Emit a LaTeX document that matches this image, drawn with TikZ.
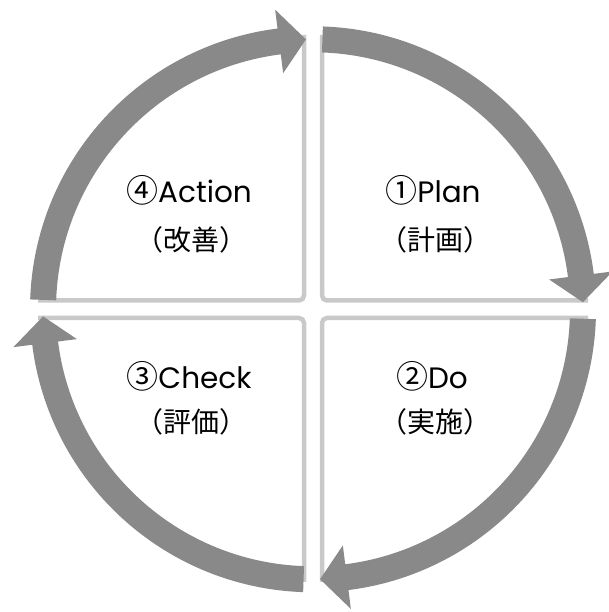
\documentclass[tikz,border=0pt]{standalone}
\usepackage{fontspec}
\setmainfont{Poppins}
\newfontfamily\cjk{Noto Sans CJK JP}
\definecolor{arrowgray}{HTML}{898989}
\definecolor{linegray}{HTML}{C9C9C9}
\newcommand{\circnum}[1]{{\cjk\fontsize{32}{32}\selectfont #1}}
\begin{document}
\begin{tikzpicture}[x=1pt,y=1pt,
  quadline/.style={draw=linegray,line width=4.5pt,rounded corners=5pt},
  ringarrow/.style={fill=arrowgray,draw=none},
  titletext/.style={font=\fontsize{29.5}{32}\selectfont,inner sep=0pt},
  subtext/.style={font=\cjk\fontsize{28}{30}\selectfont,inner sep=0pt}]
\useasboundingbox (0,0) rectangle (609,612);
\coordinate (C) at (313,302.7);
% quadrant dividing lines
\draw[quadline] (322,577) -- (322,311.5) -- (588,311.5);
\draw[quadline] (304,577) -- (304,311.5) -- (38,311.5);
\draw[quadline] (38,294) -- (304,294) -- (304,30);
\draw[quadline] (588,294) -- (322,294) -- (322,30);
% ring arrows
\foreach \k in {0,1,2,3}{
  \pgfmathsetmacro{\ta}{88-90*\k}
  \pgfmathsetmacro{\tb}{7.2-90*\k}
  \pgfmathsetmacro{\tt}{1.5-90*\k}
  \path[ringarrow,shift={(C)}] (\ta:283) arc[start angle=\ta,end angle=\tb,radius=283]
     -- (\tb:302) -- (\tt:270) -- (\tb:238) -- (\tb:257)
     arc[start angle=\tb,end angle=\ta,radius=257] -- cycle;
}
% labels
\node[titletext] (plan) at (433,422) {\circnum{①}Plan};
\node[subtext] (plansub) at (435,372) {（計画）};
\node[titletext] (action) at (189,422) {\circnum{④}Action};
\node[subtext] (actionsub) at (191,372) {（改善）};
\node[titletext] (check) at (189,236) {\circnum{③}Check};
\node[subtext] (checksub) at (191,190) {（評価）};
\node[titletext] (do) at (432,236) {\circnum{②}Do};
\node[subtext] (dosub) at (435,190) {（実施）};
\end{tikzpicture}
\end{document}
